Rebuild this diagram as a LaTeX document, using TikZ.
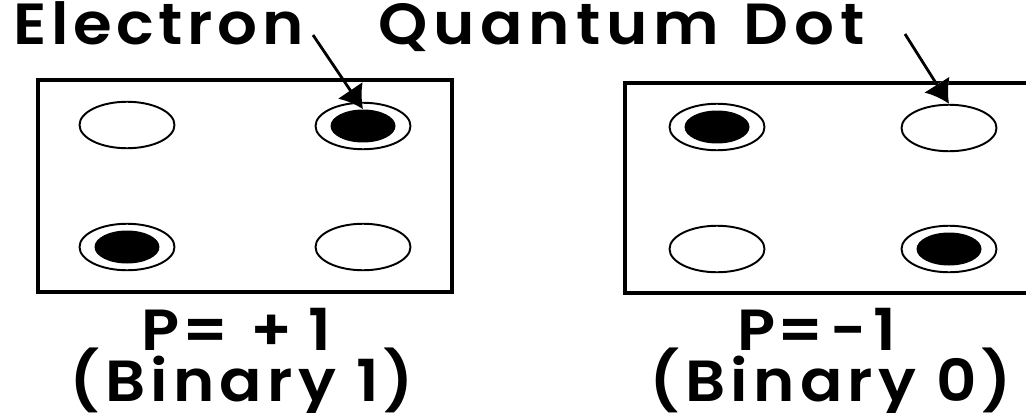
\documentclass[tikz,border=0pt]{standalone}
\usepackage{fontspec}
\setmainfont{Poppins}[LetterSpace=5, FakeStretch=1.08, BoldFont={* SemiBold}]
\usetikzlibrary{shapes.geometric,arrows.meta,positioning}

\begin{document}
\begin{tikzpicture}[x=0.02cm, y=-0.02cm,
    dot/.style={ellipse, draw, line width=1.1pt, minimum width=1.9cm, minimum height=0.93cm, inner sep=0pt},
    electron/.style={ellipse, fill=black, minimum width=1.3cm, minimum height=0.66cm, inner sep=0pt},
    frame/.style={line width=1.8pt},
    pointer/.style={-{Latex[length=0.45cm,width=0.6cm]}, line width=1.6pt,
      preaction={draw=white, line width=6pt, shorten <=1.2cm}},
    lbl/.style={inner sep=0pt, font=\fontsize{33}{36}\selectfont\bfseries\addfontfeatures{LetterSpace=9}},
    head/.style={inner sep=0pt, font=\fontsize{33}{36}\selectfont\bfseries\addfontfeatures{LetterSpace=8}},
    headwide/.style={inner sep=0pt, font=\fontsize{33}{36}\selectfont\bfseries\addfontfeatures{LetterSpace=10}}
  ]
  \useasboundingbox (0,0) rectangle (1026,412);

  % titles
  \node[head, anchor=base west] (telectron) at (13,45) {Electron};
  \node[headwide, anchor=base west] (tdot) at (378,45) {Quantum\hspace{0.5cm}Dot};

  % left cell, P=+1
  \draw[frame] (38,80) rectangle (452,292);
  \node[dot] (a1) at (127,125) {};
  \node[dot] (a2) at (363,126) {};
  \node[electron] (ea2) at (a2) {};
  \node[dot] (a3) at (127,247) {};
  \node[electron] (ea3) at (a3) {};
  \node[dot] (a4) at (363,247) {};

  % right cell, P=-1
  \draw[frame] (1030,83) -- (625,83) -- (625,293) -- (1030,293);
  \node[dot] (b1) at (717,127) {};
  \node[electron] (eb1) at (b1) {};
  \node[dot] (b2) at (949,128) {};
  \node[dot] (b3) at (717,249) {};
  \node[dot] (b4) at (949,249) {};
  \node[electron] (eb4) at (b4) {};

  % arrows
  \coordinate (ctail) at (313,35);
  \coordinate (qtail) at (905,34);
  \draw[pointer] (ctail) -- (ea2.north);
  \draw[pointer] (qtail) -- (b2.north);

  % captions
  \node[lbl, anchor=base] (pa) at (236,350) {P\kern2pt=\kern12pt+\kern9pt1};
  \node[lbl, anchor=base] (ba) at (242,401) {(Binary 1)};
  \node[lbl, anchor=base] (pb) at (817,350) {P\kern1pt=\kern4pt-\kern4pt1};
  \node[lbl, anchor=base] (bb) at (831,401) {(Binary 0)};
\end{tikzpicture}
\end{document}
